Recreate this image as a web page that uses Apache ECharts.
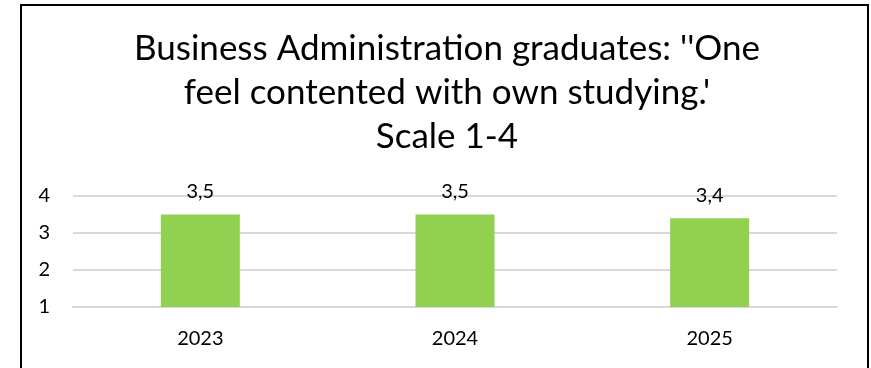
<!DOCTYPE html>
<html>
<head>
<meta charset="utf-8">
<script src="https://cdn.jsdelivr.net/npm/echarts@6/dist/echarts.min.js"></script>
<style>
  html, body { margin: 0; padding: 0; background: #fff; }
  #chart { width: 871px; height: 368px; }
</style>
</head>
<body>
<div id="chart"></div>
<script>
// Survey results, mean score on a 1-4 scale
const years = ['2023', '2024', '2025'];
const scores = [3.5, 3.5, 3.4];
const yTicks = [1, 2, 3, 4];
const titleLines = [
  "Business Administration graduates: ''One",
  "feel contented with own studying.'",
  "Scale 1-4"
];

const FONT = 'Lato, "Open Sans", sans-serif';
const chart = echarts.init(document.getElementById('chart'), null, { renderer: 'canvas' });

chart.setOption({
  animation: false,
  backgroundColor: '#fff',
  title: {
    text: titleLines.join('\n'),
    left: 442,
    textAlign: 'center',
    top: 22,
    textStyle: {
      fontFamily: FONT,
      fontSize: 35,
      fontWeight: 'normal',
      color: '#000',
      lineHeight: 44
    }
  },
  graphic: [{
    type: 'rect',
    shape: { x: 21, y: 5, width: 847, height: 400 },
    style: { fill: 'none', stroke: '#000', lineWidth: 2 },
    silent: true
  }],
  grid: { left: 73, right: 34, top: 196, bottom: 61 },
  xAxis: {
    type: 'category',
    data: years,
    axisLine: { show: true, lineStyle: { color: '#d9d9d9', width: 2 } },
    axisTick: { show: false },
    axisLabel: { color: '#000', fontFamily: FONT, fontSize: 20, margin: 22 }
  },
  yAxis: {
    type: 'value',
    min: yTicks[0],
    max: yTicks[yTicks.length - 1],
    interval: 1,
    axisLine: { show: false },
    axisTick: { show: false },
    splitLine: { lineStyle: { color: '#d9d9d9', width: 2 } },
    axisLabel: { color: '#000', fontFamily: FONT, fontSize: 20, margin: 23 }
  },
  series: [{
    type: 'bar',
    data: scores,
    barWidth: 79,
    itemStyle: { color: '#92D050' },
    label: {
      show: true,
      position: 'top',
      distance: 13,
      color: '#000',
      fontFamily: FONT,
      fontSize: 20,
      formatter: p => String(p.value).replace('.', ',')
    }
  }]
});
</script>
</body>
</html>
